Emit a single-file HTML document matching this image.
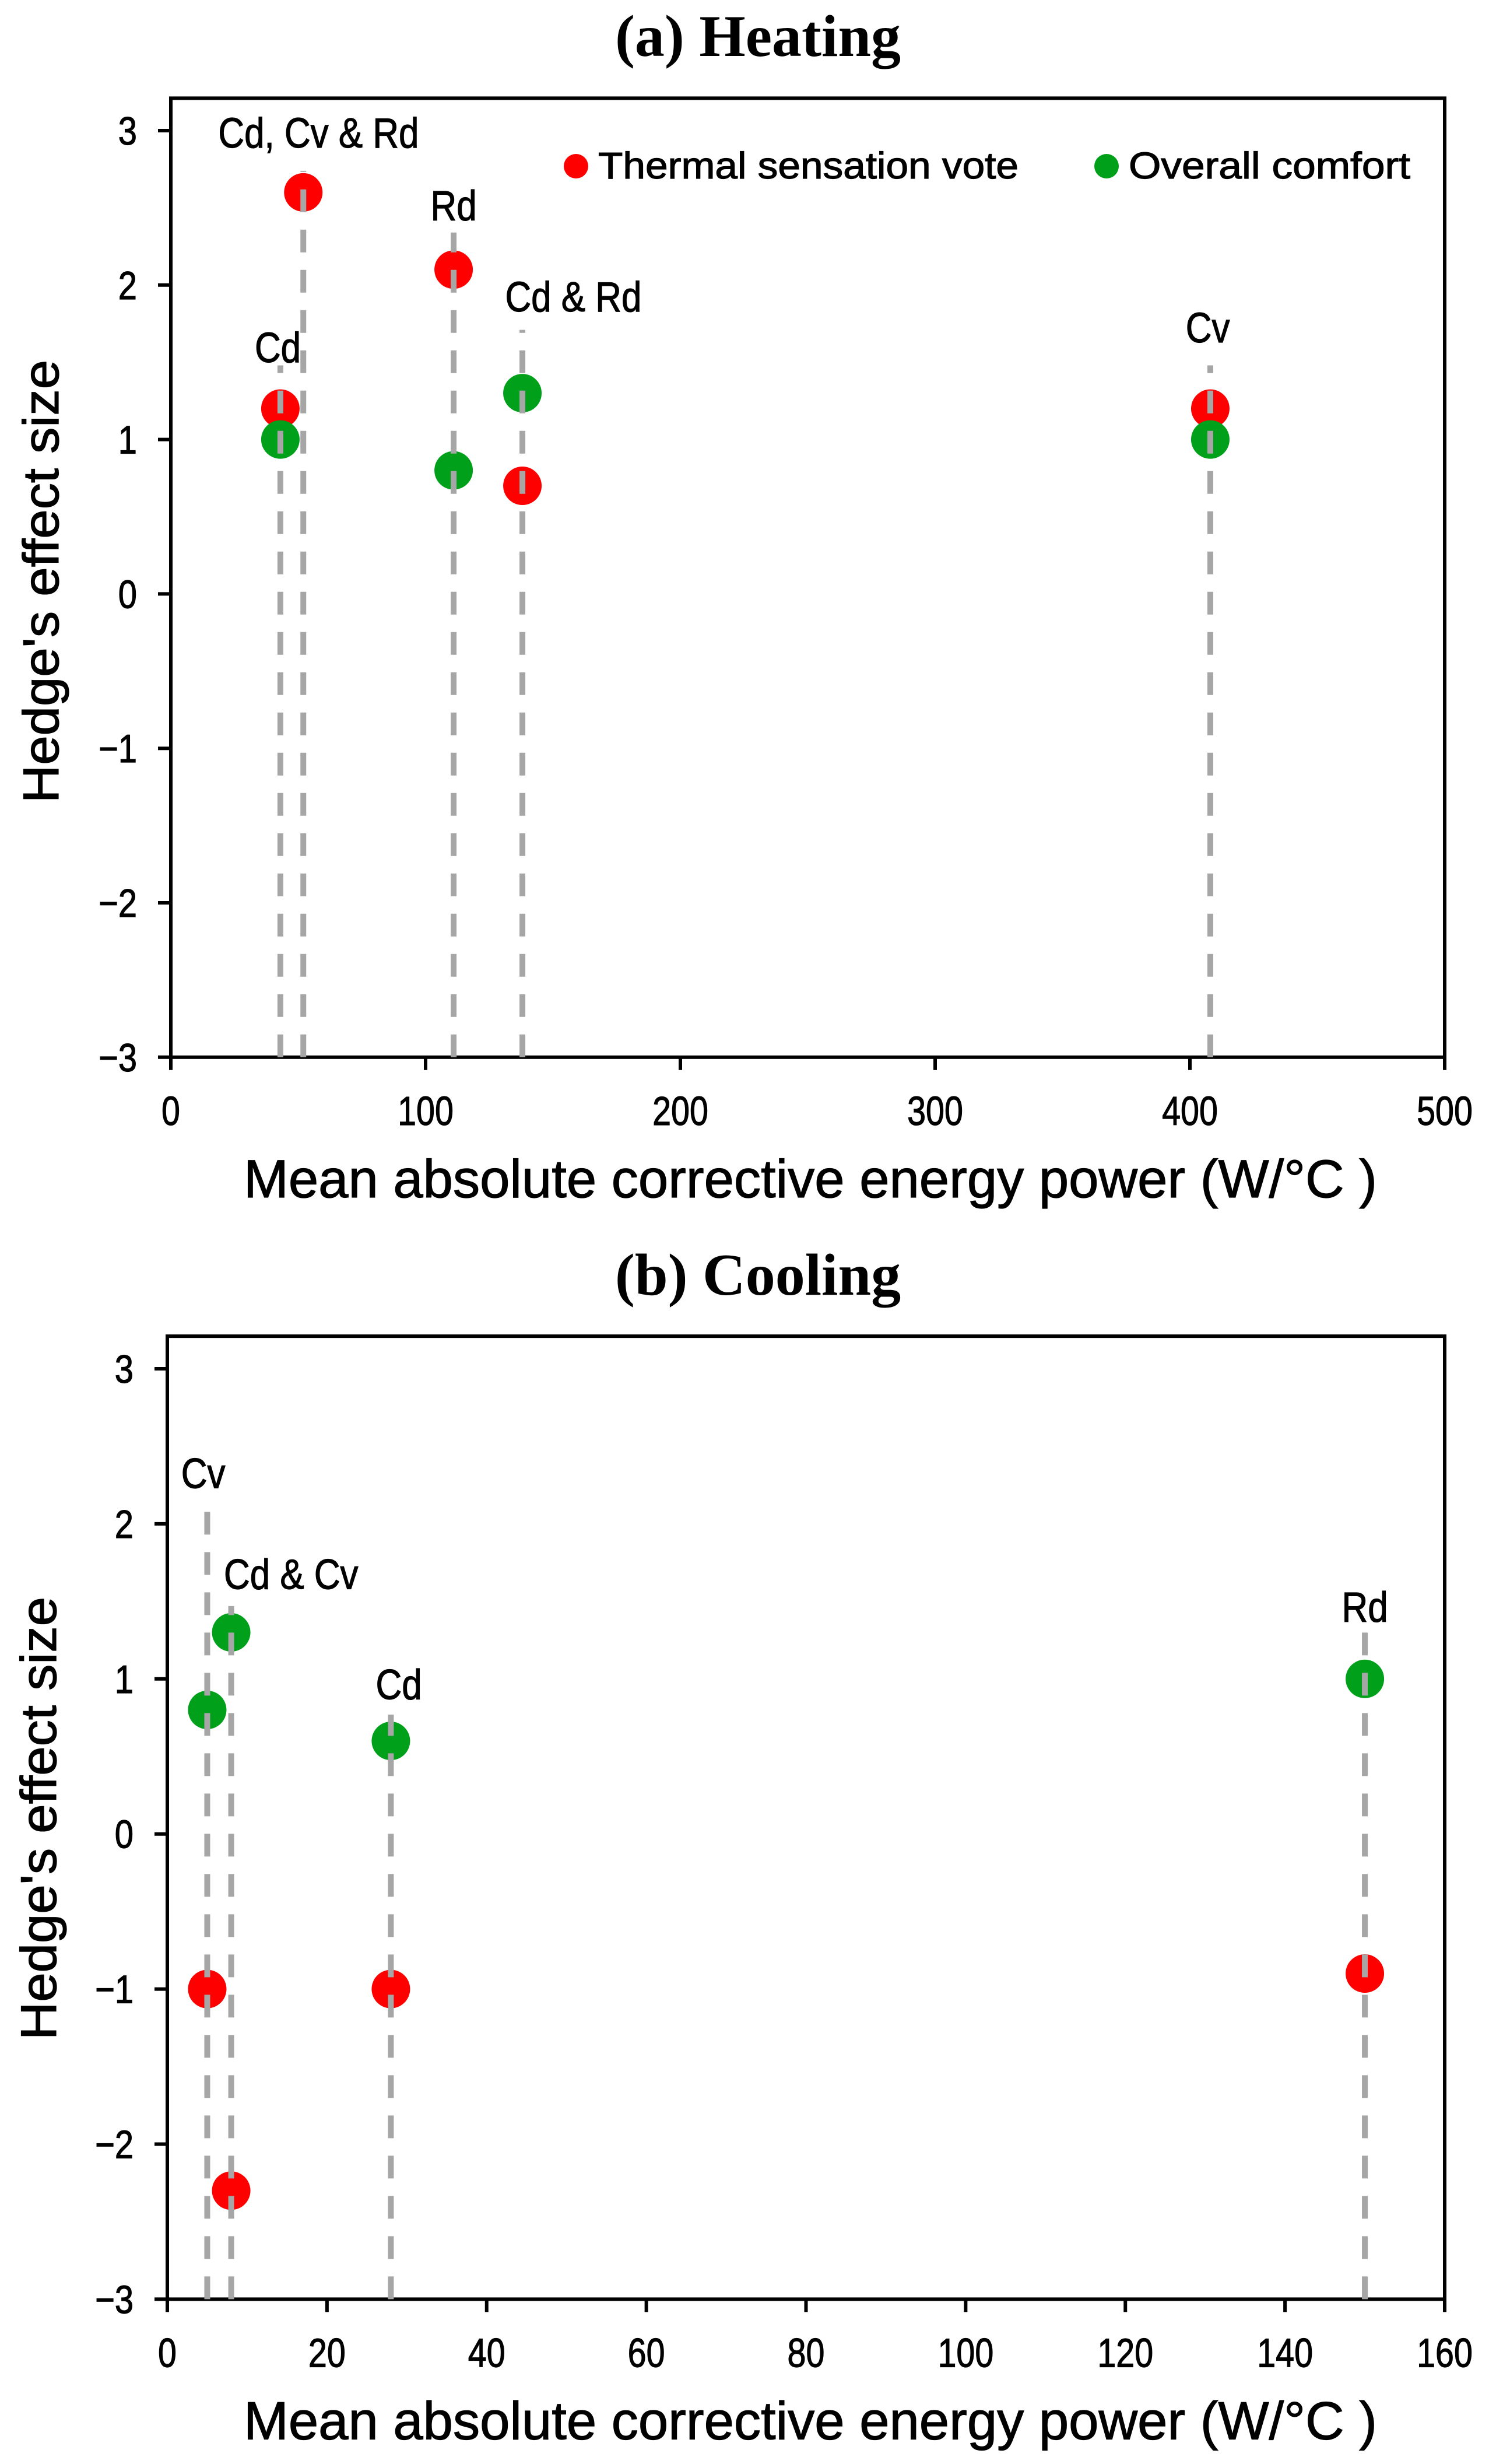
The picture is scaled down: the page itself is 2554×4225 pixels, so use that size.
<!DOCTYPE html>
<html><head><meta charset="utf-8">
<style>
html,body{margin:0;padding:0;background:#fff;}
svg{display:block;}
text{font-family:"Liberation Sans",sans-serif;fill:#000;stroke:#000;stroke-width:1.2px;}
.serif{font-family:"Liberation Serif",serif;font-weight:bold;stroke-width:0;}
</style></head>
<body>
<svg id="fig" width="2554" height="4225" viewBox="0 0 2554 4225" xmlns="http://www.w3.org/2000/svg"></svg>
<script>
// ---- Heating data ----
const heatTsvX = [43, 52, 111, 138, 408];
const heatTsvY = [1.2, 2.6, 2.1, 0.7, 1.2];
const heatOcX = [43, 111, 138, 408];
const heatOcY = [1.0, 0.8, 1.3, 1.0];
const heatLineX = [43, 52, 111, 138, 408];
const heatLineTop = [1.48, 2.74, 2.34, 1.71, 1.48];
const heatLabels = ["Cd", "Cd, Cv & Rd", "Rd", "Cd & Rd", "Cv"];
const heatLabelX = [42, 58, 111, 158, 407];
const heatLabelY = [1.5, 2.89, 2.42, 1.83, 1.63];
const heatXTicks = [0, 100, 200, 300, 400, 500];
// ---- Cooling data ----
const coolTsvX = [5, 8, 28, 150];
const coolTsvY = [-1.0, -2.3, -1.0, -0.9];
const coolOcX = [5, 8, 28, 150];
const coolOcY = [0.8, 1.3, 0.6, 1.0];
const coolLineX = [5, 8, 28, 150];
const coolLineTop = [2.14, 1.47, 0.77, 1.30];
const coolLabels = ["Cv", "Cd & Cv", "Cd", "Rd"];
const coolLabelX = [4.5, 15.5, 29, 150];
const coolLabelY = [2.23, 1.58, 0.87, 1.37];
const coolXTicks = [0, 20, 40, 60, 80, 100, 120, 140, 160];
const yTicks = [-3, -2, -1, 0, 1, 2, 3];

const NS = "http://www.w3.org/2000/svg";
const svg = document.getElementById('fig');
function mk(tag, attrs, parent) {
  const e = document.createElementNS(NS, tag);
  for (const k in attrs) e.setAttribute(k, attrs[k]);
  (parent || svg).appendChild(e);
  return e;
}
function txt(parent, s, x, y, size, anchor, cls) {
  const t = mk('text', {x: x, y: y, 'font-size': size, 'text-anchor': anchor || 'middle'}, parent);
  if (cls) t.setAttribute('class', cls);
  t.textContent = s;
  return t;
}
function condense(t, f) {
  const L = t.getComputedTextLength();
  t.setAttribute('textLength', (L * f).toFixed(1));
  t.setAttribute('lengthAdjust', 'spacingAndGlyphs');
}

function chart(cfg) {
  const g = mk('g', {});
  
  
  const L = cfg.left, R = 2478, y3 = cfg.y3, unit = cfg.unit;
  const xs = v => L + (v - cfg.xmin) / (cfg.xmax - cfg.xmin) * (R - L);
  const ys = v => y3 + (3 - v) * unit;
  const top = ys(3.21), bot = ys(-3);

  const title = txt(g, cfg.title, 1300, cfg.titleY, 102, 'middle', 'serif');
  
  

  const box = mk('rect', {x: L, y: top, width: R - L, height: bot - top, fill: 'none', stroke: '#000', 'stroke-width': 6}, g);
  
  

  yTicks.forEach(v => {
    const tk = mk('line', {x1: L - 22, x2: L, y1: ys(v), y2: ys(v), stroke: '#000', 'stroke-width': 6}, g);
    
    
    const lb = txt(g, v < 0 ? '\u2212' + Math.abs(v) : String(v), L - 58, ys(v) + 24, 68, 'end');
    
    
    condense(lb, 0.85);
  });
  cfg.xticks.forEach(v => {
    const tk = mk('line', {x1: xs(v), x2: xs(v), y1: bot, y2: bot + 22, stroke: '#000', 'stroke-width': 6}, g);
    
    
    const lb = txt(g, String(v), xs(v), bot + 116, 70, 'middle');
    
    
    condense(lb, 0.82);
  });
  const xt = txt(g, 'Mean absolute corrective energy power (W/\u00B0C )', 1390, bot + 240, 92, 'middle');
  xt.setAttribute('textLength', 1944);
  xt.setAttribute('lengthAdjust', 'spacingAndGlyphs');
  
  
  const yt = txt(g, "Hedge's effect size", 0, 0, 86, 'middle');
  yt.setAttribute('transform', `translate(${cfg.yTitleX},${cfg.yTitleY}) rotate(-90)`);
  yt.setAttribute('textLength', 760);
  yt.setAttribute('lengthAdjust', 'spacingAndGlyphs');
  
  

  cfg.tsvX.forEach((x, i) => {
    const c = mk('circle', {cx: xs(x), cy: ys(cfg.tsvY[i]), r: 33, fill: '#ff0000'}, g);
    
    
  });
  cfg.ocX.forEach((x, i) => {
    const c = mk('circle', {cx: xs(x), cy: ys(cfg.ocY[i]), r: 33, fill: '#00a01a'}, g);
    
    
  });
  cfg.lineX.forEach((x, i) => {
    const l = mk('line', {x1: xs(x), x2: xs(x), y1: bot, y2: ys(cfg.lineTop[i]), stroke: '#a6a6a6', 'stroke-width': 10, 'stroke-dasharray': '39 30'}, g);
    
    
  });
  cfg.labels.forEach((s, i) => {
    const t = txt(g, s, xs(cfg.labelX[i]), ys(cfg.labelY[i]), 72, 'middle');
    
    
    condense(t, 0.86);
  });
  if (cfg.legend) {
    const lg = mk('g', {}, g);
    
    
    const d1 = mk('circle', {cx: 988, cy: 285, r: 21, fill: '#ff0000'}, lg);
    
    
    const t1 = txt(lg, 'Thermal sensation vote', 1026, 306, 64, 'start');
    t1.setAttribute('textLength', 721);
    t1.setAttribute('lengthAdjust', 'spacingAndGlyphs');
    
    
    const d2 = mk('circle', {cx: 1898, cy: 285, r: 21, fill: '#00a01a'}, lg);
    
    
    const t2 = txt(lg, 'Overall comfort', 1936, 306, 64, 'start');
    t2.setAttribute('textLength', 483);
    t2.setAttribute('lengthAdjust', 'spacingAndGlyphs');
    
    
  }
}

chart({name: 'heating-chart', title: '(a) Heating', titleY: 96, left: 293, y3: 224, unit: 264.8,
  xmin: 0, xmax: 500, xticks: heatXTicks, yTitleX: 100, yTitleY: 997,
  tsvX: heatTsvX, tsvY: heatTsvY, ocX: heatOcX, ocY: heatOcY,
  lineX: heatLineX, lineTop: heatLineTop, labels: heatLabels, labelX: heatLabelX, labelY: heatLabelY, legend: true});
chart({name: 'cooling-chart', title: '(b) Cooling', titleY: 2220, left: 287, y3: 2347, unit: 265.9,
  xmin: 0, xmax: 160, xticks: coolXTicks, yTitleX: 96, yTitleY: 3118,
  tsvX: coolTsvX, tsvY: coolTsvY, ocX: coolOcX, ocY: coolOcY,
  lineX: coolLineX, lineTop: coolLineTop, labels: coolLabels, labelX: coolLabelX, labelY: coolLabelY, legend: false});
</script>
</body></html>
